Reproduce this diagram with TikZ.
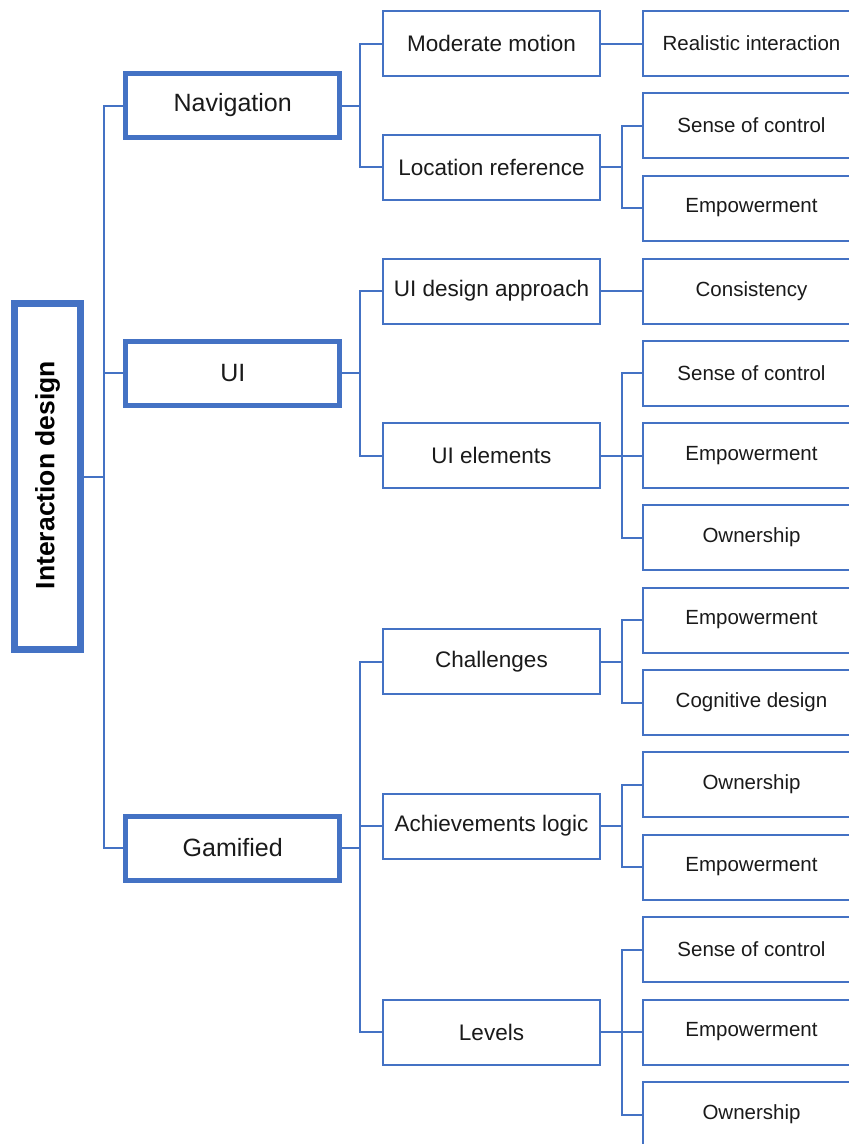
\documentclass[tikz,border=0pt]{standalone}
\usepackage{fontspec}
\setmainfont{Liberation Sans}
\definecolor{bl}{HTML}{4472C4}
\definecolor{tx}{HTML}{1A1A1A}
\begin{document}
\begin{tikzpicture}[x=1pt,y=-1pt,
  base/.style={draw=bl,fill=white,inner sep=0pt,text=tx,anchor=center},
  rootbox/.style={base,line width=6.5pt,minimum width=66pt,minimum height=346pt},
  lvone/.style={base,line width=5pt,minimum width=214pt,minimum height=64pt,font=\fontsize{25}{30}\selectfont},
  lvtwo/.style={base,line width=2pt,minimum width=217pt,minimum height=65pt,font=\fontsize{22.5}{27}\selectfont},
  leaf/.style={base,line width=2pt,minimum width=217pt,minimum height=65pt,font=\fontsize{20.5}{25}\selectfont},
  con/.style={draw=bl,line width=2pt}]
\useasboundingbox (0,0) rectangle (849,1144);
\fill[white] (0,0) rectangle (849,1144);
\clip (0,0) rectangle (849,1144);
% root
\node[rootbox] (root) at (47.5,476.5) {};
\node[rotate=90,text=black,font=\bfseries\fontsize{26.5}{30}\selectfont] (roott) at (47.5,475) {Interaction design};
% level 1
\node[lvone] (nav) at (232.75,105.5) {Navigation};
\node[lvone] (ui) at (232.75,373) {UI};
\node[lvone] (gam) at (232.75,848) {Gamified};
% level 2
\node[lvtwo] (mm) at (491.5,43.5) {Moderate motion};
\node[lvtwo] (lr) at (491.5,167) {Location reference};
\node[lvtwo] (uda) at (491.5,291) {UI design approach};
\node[lvtwo] (uie) at (491.5,455.5) {UI elements};
\node[lvtwo] (ch) at (491.5,661.5) {Challenges};
\node[lvtwo] (al) at (491.5,826) {Achievements logic};
\node[lvtwo] (lv) at (491.5,1032) {Levels};
% leaves
\node[leaf] (l1) at (751.5,43.5) {Realistic interaction};
\node[leaf] (l2) at (751.5,125.5) {Sense of control};
\node[leaf] (l3) at (751.5,208) {Empowerment};
\node[leaf] (l4) at (751.5,291) {Consistency};
\node[leaf] (l5) at (751.5,373) {Sense of control};
\node[leaf] (l6) at (751.5,455.5) {Empowerment};
\node[leaf] (l7) at (751.5,537.5) {Ownership};
\node[leaf] (l8) at (751.5,620) {Empowerment};
\node[leaf] (l9) at (751.5,702.5) {Cognitive design};
\node[leaf] (l10) at (751.5,784.5) {Ownership};
\node[leaf] (l11) at (751.5,867) {Empowerment};
\node[leaf] (l12) at (751.5,949.5) {Sense of control};
\node[leaf] (l13) at (751.5,1032) {Empowerment};
\node[leaf] (l14) at (751.5,1114.5) {Ownership};
% connectors root
\foreach \c in {nav,ui,gam} \draw[con] (root.east) -- ++(20,0) |- (\c.west);
% level 1 to level 2
\foreach \c in {mm,lr} \draw[con] (nav.east) -- ++(18,0) |- (\c.west);
\foreach \c in {uda,uie} \draw[con] (ui.east) -- ++(18,0) |- (\c.west);
\foreach \c in {ch,al,lv} \draw[con] (gam.east) -- ++(18,0) |- (\c.west);
% level 2 to leaves
\draw[con] (mm.east) -- (l1.west);
\foreach \c in {l2,l3} \draw[con] (lr.east) -- ++(21,0) |- (\c.west);
\draw[con] (uda.east) -- (l4.west);
\foreach \c in {l5,l6,l7} \draw[con] (uie.east) -- ++(21,0) |- (\c.west);
\foreach \c in {l8,l9} \draw[con] (ch.east) -- ++(21,0) |- (\c.west);
\foreach \c in {l10,l11} \draw[con] (al.east) -- ++(21,0) |- (\c.west);
\foreach \c in {l12,l13,l14} \draw[con] (lv.east) -- ++(21,0) |- (\c.west);
\end{tikzpicture}
\end{document}
